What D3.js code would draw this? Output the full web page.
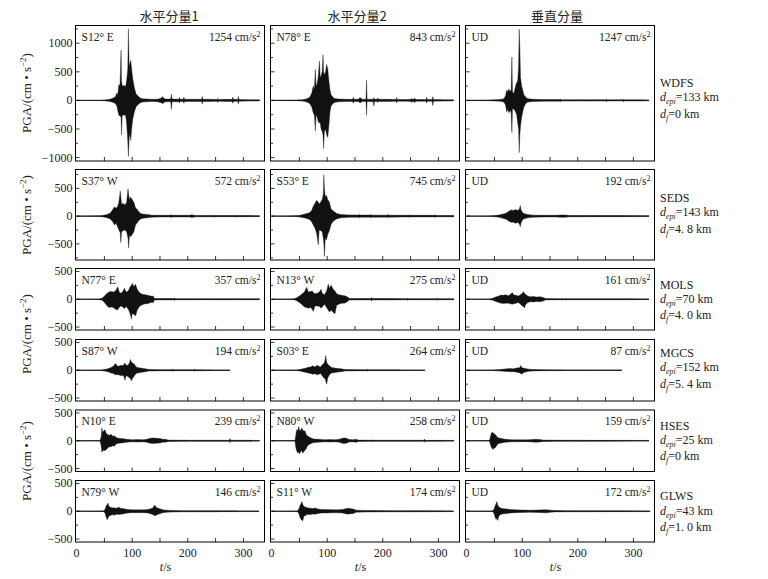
<!DOCTYPE html>
<html>
<head>
<meta charset="utf-8">
<script src="https://cdn.jsdelivr.net/npm/d3@7"></script>
<style>
  body { margin: 0; background: #fff; }
  svg { display: block; }
  text { font-family: "Liberation Serif", "DejaVu Serif", serif; fill: #222; }
  .cjk { font-family: "Noto Sans CJK SC", sans-serif; }
</style>
</head>
<body>
<div id="chart"></div>
<script>
/* ============================================================
   DATA
   each trace: [t (s), upper envelope, lower envelope] in cm/s^2
   ============================================================ */
const columnTitles = ['水平分量1', '水平分量2', '垂直分量'];
const stations = ['WDFS', 'SEDS', 'MOLS', 'MGCS', 'HSES', 'GLWS'];
const epiDist = ['133', '143', '70', '152', '25', '43'];
const faultDist = ['0', '4. 8', '4. 0', '5. 4', '0', '1. 0'];
const components = [
    ['S12° E', 'N78° E', 'UD'],
    ['S37° W', 'S53° E', 'UD'],
    ['N77° E', 'N13° W', 'UD'],
    ['S87° W', 'S03° E', 'UD'],
    ['N10° E', 'N80° W', 'UD'],
    ['N79° W', 'S11° W', 'UD']
];
const pgaValues = [
    [1254, 843, 1247],
    [572, 745, 192],
    [357, 275, 161],
    [194, 264, 87],
    [239, 258, 159],
    [146, 174, 172]
];
const xTicks = [0, 100, 200, 300];
const yTicksBig = [-1000, -500, 0, 500, 1000];
const yTicksSmall = [-500, 0, 500];

const wdfsH1 = [[0,0,0],[42,3,-3],[50,8,-8],[60,20,-20],[66,40,-35],[70,70,-60],[72.5,130,-100],[74,100,-180],[76,280,-260],[78,260,-270],[80,880,-300],[80.8,350,-600],[82,260,-270],[84,250,-250],[86,260,-270],[88,240,-250],[90,350,-400],[92,550,-700],[93.2,1254,-980],[94.5,600,-650],[96,650,-600],[97.4,700,-700],[99,550,-500],[101,380,-330],[104,220,-200],[107,110,-110],[110,80,-80],[114,45,-45],[118,30,-30],[125,25,-25],[135,20,-20],[145,22,-22],[151,35,-35],[153,50,-45],[155,65,-60],[157,35,-35],[160,25,-25],[169.3,25,-25],[170.5,110,-160],[171.7,25,-25],[183.8,22,-22],[185,50,-45],[186.2,20,-20],[191.8,20,-20],[193,55,-50],[194.2,20,-20],[210,20,-20],[224.8,18,-18],[226,70,-65],[227.2,18,-18],[240,18,-18],[252.8,16,-16],[254,35,-35],[255.2,15,-15],[270,18,-18],[279.8,18,-18],[281,55,-50],[282.2,18,-18],[289.8,16,-16],[291,70,-65],[292.2,15,-15],[310,12,-12],[329,10,-10]];
const wdfsH2 = [[0,0,0],[20,3,-3],[45,5,-5],[55,12,-12],[62,25,-25],[68,50,-50],[72,120,-110],[75,250,-220],[77,200,-260],[78.6,540,-535],[80,250,-250],[82,300,-300],[84,420,-380],[86,690,-390],[87.5,400,-400],[89,430,-500],[91,500,-550],[92.5,800,-600],[93.5,500,-843],[95,450,-550],[97,500,-500],[99,628,-600],[101,550,-650],[103,350,-450],[105,180,-200],[107,100,-100],[110,60,-60],[113,35,-35],[120,25,-25],[135,20,-20],[145.8,20,-20],[147,55,-50],[148.2,18,-18],[156,20,-20],[158,40,-35],[159,45,-40],[161,40,-35],[162.5,18,-18],[169.8,20,-20],[170.8,355,-260],[171.8,20,-20],[182.8,22,-22],[184,45,-100],[185.2,20,-20],[189.8,20,-20],[191,40,-35],[192.2,18,-18],[210,18,-18],[223.8,16,-16],[225,50,-45],[226.2,15,-15],[245,15,-15],[251,20,-20],[252,35,-35],[254,20,-20],[256,22,-22],[258,38,-35],[259.2,15,-15],[275,15,-15],[277.8,15,-15],[279,55,-50],[280.2,15,-15],[288.8,15,-15],[290,65,-90],[291.2,15,-15],[310,12,-12],[327,10,-10]];
const wdfsUD = [[0,0,0],[8,3,-3],[40,6,-6],[50,10,-10],[60,15,-15],[67,30,-30],[70,80,-80],[72,180,-200],[74,150,-160],[76,200,-215],[78,170,-180],[80,160,-200],[81.5,760,-565],[82.5,150,-150],[85,120,-150],[88,250,-200],[90,310,-250],[92,350,-400],[93.5,600,-500],[94.6,1247,-915],[95.8,920,-600],[97,400,-450],[99,250,-300],[101,180,-200],[103,100,-120],[106,60,-60],[110,30,-30],[120,20,-20],[140,15,-15],[160,15,-15],[167.8,15,-15],[169,25,-25],[170.2,12,-12],[200,12,-12],[230,12,-12],[250.8,12,-12],[252,18,-18],[253.2,10,-10],[270,10,-10],[280.8,10,-10],[282,22,-22],[283.2,10,-10],[310,10,-10],[328,8,-8]];

const sedsH1 = [[0,0,0],[14,3,-3],[40,6,-6],[46,12,-12],[55,30,-30],[61,60,-55],[65,120,-100],[68,165,-160],[71,140,-130],[74,180,-200],[76,250,-250],[78.5,452,-300],[79.5,350,-476],[81,220,-280],[84,226,-260],[87,200,-250],[90,250,-280],[92.5,494,-400],[93.5,400,-577],[95,300,-350],[97,345,-370],[100,300,-330],[103,250,-280],[106,150,-160],[109,120,-120],[112,80,-80],[116,45,-45],[122,35,-35],[128,30,-30],[135,18,-18],[150,15,-15],[165,15,-15],[168.8,15,-15],[170,28,-28],[171.2,15,-15],[200,15,-15],[204.8,15,-15],[206,28,-25],[208,18,-18],[210,28,-25],[211.2,12,-12],[240,12,-12],[246.8,12,-12],[248,18,-18],[249.2,10,-10],[280,10,-10],[285.8,10,-10],[287,18,-18],[288.2,10,-10],[310,10,-10],[329,8,-8]];
const sedsH2 = [[0,0,0],[24,3,-3],[42,6,-6],[48,12,-12],[55,25,-25],[62,45,-40],[68,60,-60],[72,100,-100],[75,180,-160],[78,230,-220],[81,285,-310],[84,250,-518],[85.5,220,-250],[88,250,-260],[91,300,-280],[93,400,-400],[94,745,-500],[95,500,-726],[96.5,350,-400],[98.5,375,-430],[101,300,-330],[104,250,-260],[107,130,-150],[110,100,-100],[114,70,-70],[118,45,-45],[125,30,-30],[140,22,-22],[155,22,-22],[156.8,22,-22],[158,30,-28],[159.2,20,-20],[175,20,-20],[177.8,20,-20],[179,30,-28],[180.2,18,-18],[200,18,-18],[207.8,18,-18],[209,32,-30],[210.2,18,-18],[240,15,-15],[246.8,15,-15],[248,22,-22],[249.2,14,-14],[285,14,-14],[293.8,14,-14],[295,22,-22],[296.2,12,-12],[315,12,-12],[328,10,-10]];
const sedsUD = [[0,0,0],[35,3,-3],[45,6,-6],[55,15,-15],[62,30,-30],[68,45,-45],[72,60,-60],[76,90,-90],[80,110,-110],[84,100,-110],[88,120,-130],[92,100,-115],[95,130,-140],[96.5,192,-190],[98,110,-120],[101,60,-60],[104,45,-45],[110,30,-30],[120,18,-18],[140,15,-15],[160,15,-15],[170,22,-22],[178,20,-20],[185,12,-12],[229.8,10,-10],[231,14,-14],[232.2,10,-10],[280,10,-10],[328,8,-8]];

const molsH1 = [[0,0,0],[40,5,-5],[46,20,-20],[50,60,-60],[54,100,-110],[58,130,-150],[62,140,-140],[66,130,-150],[70,150,-180],[74,225,-190],[77,120,-140],[80,110,-120],[83,140,-140],[86,200,-170],[89,130,-130],[93,150,-180],[96,220,-250],[98.5,250,-357],[100,285,-260],[103,230,-270],[106,270,-300],[109,180,-200],[113,120,-130],[118,90,-100],[124,80,-80],[128,70,-80],[133,60,-60],[138,55,-60],[140,15,-15],[150,12,-12],[170,12,-12],[174.8,12,-12],[176,22,-22],[177.2,10,-10],[200,10,-10],[230,8,-8],[260,10,-10],[300,8,-8],[329,8,-8]];
const molsH2 = [[0,0,0],[33,4,-4],[40,8,-8],[45,25,-25],[50,60,-60],[55,100,-100],[59,130,-140],[63,214,-150],[66,130,-160],[70,140,-150],[73,150,-180],[75,120,-220],[78,100,-120],[82,110,-120],[86,130,-130],[89,180,-160],[91,110,-140],[95,80,-90],[99,150,-150],[102,275,-200],[104,200,-230],[107,250,-200],[111,180,-240],[114,150,-262],[117,100,-110],[121,80,-90],[126,70,-70],[131,65,-70],[136,45,-45],[140,15,-15],[160,12,-12],[178.8,12,-12],[180,30,-30],[181.2,12,-12],[210,12,-12],[243.8,10,-10],[245,20,-20],[246.2,10,-10],[280,10,-10],[296.8,10,-10],[298,16,-16],[299.2,10,-10],[328,8,-8]];
const molsUD = [[0,0,0],[40,4,-4],[46,15,-15],[52,40,-40],[58,60,-60],[62,75,-70],[66,70,-75],[70,80,-70],[75,65,-70],[79,90,-80],[82,120,-90],[85,75,-80],[89,70,-70],[93,60,-60],[97,80,-90],[100,110,-120],[102.5,137,-130],[104,110,-161],[106,90,-100],[110,60,-60],[115,45,-45],[120,50,-50],[126,40,-40],[132,45,-45],[138,30,-30],[142,12,-12],[160,10,-10],[178.8,10,-10],[180,15,-15],[181.2,8,-8],[250,8,-8],[290,8,-8],[328,6,-6]];

const mgcsH1 = [[0,0,0],[44,4,-4],[50,15,-15],[56,25,-25],[62,50,-50],[66,70,-60],[70,120,-80],[73,80,-80],[76,70,-80],[79,90,-100],[82,80,-90],[85,100,-110],[87,130,-180],[89,90,-100],[92,90,-110],[95,130,-140],[97,194,-150],[98.5,150,-190],[101,130,-140],[104,110,-100],[107,60,-60],[112,45,-45],[118,35,-35],[124,25,-25],[130,15,-15],[150,10,-10],[171.8,10,-10],[173,18,-18],[174.2,8,-8],[210.8,8,-8],[212,18,-18],[213.2,8,-8],[250,6,-6],[276,5,-5]];
const mgcsH2 = [[0,0,0],[45,4,-4],[50,12,-12],[56,25,-25],[62,40,-40],[66,55,-50],[70,60,-60],[74,80,-70],[78,60,-65],[82,90,-80],[85,70,-70],[88,60,-60],[91,100,-100],[94,120,-140],[96,180,-150],[97.5,264,-200],[99,150,-250],[101,110,-140],[104,80,-80],[108,50,-50],[114,40,-40],[120,30,-30],[126,25,-25],[132,12,-12],[160,10,-10],[171.8,10,-10],[173,16,-16],[174.2,7,-7],[227.8,7,-7],[229,12,-12],[230.2,6,-6],[260,5,-5],[276,5,-5]];
const mgcsUD = [[0,0,0],[45,3,-3],[55,10,-10],[65,18,-18],[72,25,-22],[78,30,-28],[84,25,-25],[88,35,-30],[92,45,-40],[95,40,-45],[97.5,87,-60],[99,50,-71],[102,40,-45],[106,30,-30],[112,20,-20],[120,12,-12],[140,8,-8],[180,6,-6],[230,5,-5],[279,4,-4]];

const hsesH1 = [[0,0,0],[42,5,-5],[44,60,-80],[45.5,230,-205],[47,150,-180],[49,180,-170],[51,200,-180],[53,140,-160],[56,110,-130],[59,100,-110],[62,115,-110],[65,80,-90],[68,90,-100],[71,60,-60],[75,45,-45],[80,40,-40],[85,35,-35],[90,25,-25],[100,20,-20],[110,22,-22],[120,20,-20],[126,25,-25],[132,45,-45],[138,50,-50],[144,45,-45],[150,40,-40],[155,25,-25],[160,25,-25],[165,12,-12],[190,10,-10],[195.8,10,-10],[197,15,-15],[198.2,8,-8],[240,8,-8],[274.8,8,-8],[276,40,-35],[277.2,8,-8],[300,8,-8],[312.8,8,-8],[314,15,-15],[315.2,6,-6],[329,6,-6]];
const hsesH2 = [[0,0,0],[42,5,-5],[43.5,100,-120],[45,200,-180],[47,180,-220],[48.5,258,-200],[50,200,-238],[52,180,-200],[54,230,-180],[56,200,-220],[58,170,-200],[60,180,-170],[62,120,-150],[64,90,-100],[67,70,-70],[71,50,-50],[76,30,-30],[85,25,-25],[95,20,-20],[105,22,-22],[115,20,-20],[122,28,-28],[127,45,-45],[131,50,-48],[135,45,-45],[138,25,-25],[145,20,-20],[152,28,-28],[156,12,-12],[175,10,-10],[180.8,10,-10],[182,16,-16],[183.2,8,-8],[230,8,-8],[260,8,-8],[273.8,8,-8],[275,30,-28],[276.2,7,-7],[300,7,-7],[328,6,-6]];
const hsesUD = [[0,0,0],[41,4,-4],[42.5,60,-60],[44,120,-110],[46,159,-140],[48,140,-155],[50,120,-130],[52,110,-120],[54,80,-90],[56,60,-60],[60,45,-45],[65,35,-35],[70,25,-25],[80,20,-20],[95,16,-16],[110,16,-16],[118,22,-22],[125,28,-28],[132,22,-22],[138,12,-12],[160,10,-10],[200,8,-8],[250,7,-7],[300,6,-6],[328,5,-5]];

const glwsH1 = [[0,0,0],[48,4,-4],[51,30,-30],[53,90,-100],[55,120,-155],[56.5,146,-120],[58,90,-90],[61,70,-75],[64,60,-60],[67,65,-70],[70,55,-60],[73,60,-55],[76,70,-60],[79,55,-55],[83,50,-50],[87,40,-40],[92,30,-30],[100,25,-25],[110,25,-25],[120,25,-25],[128,30,-30],[133,45,-45],[137,60,-60],[140.5,113,-80],[143,70,-70],[147,55,-55],[151,40,-40],[155,25,-25],[162,20,-20],[170,15,-15],[190,10,-10],[220,10,-10],[251.8,10,-10],[253,12,-12],[254.2,7,-7],[287.8,7,-7],[289,10,-10],[290.2,6,-6],[328,6,-6]];
const glwsH2 = [[0,0,0],[46,4,-4],[49,40,-40],[51,100,-110],[53,140,-150],[54.5,174,-160],[56,120,-174],[58,90,-90],[61,70,-75],[64,65,-60],[67,60,-60],[70,55,-60],[74,50,-50],[78,60,-55],[82,45,-45],[86,35,-35],[92,30,-30],[100,30,-30],[110,28,-28],[120,28,-28],[127,30,-30],[131,40,-40],[135,50,-50],[139,55,-50],[143,45,-45],[147,40,-40],[152,20,-20],[165,15,-15],[180,12,-12],[210,10,-10],[250,10,-10],[290,8,-8],[327,6,-6]];
const glwsUD = [[0,0,0],[46,4,-4],[49,30,-30],[51,90,-100],[53,140,-150],[54.5,172,-120],[56,110,-165],[58,80,-90],[61,60,-60],[64,50,-50],[68,45,-45],[73,40,-40],[80,30,-30],[88,25,-25],[100,22,-22],[115,20,-20],[128,22,-22],[138,25,-25],[145,28,-28],[150,20,-20],[158,12,-12],[180,10,-10],[220,8,-8],[270,7,-7],[330,6,-6]];

const traceGrid = [
    [wdfsH1, wdfsH2, wdfsUD],
    [sedsH1, sedsH2, sedsUD],
    [molsH1, molsH2, molsUD],
    [mgcsH1, mgcsH2, mgcsUD],
    [hsesH1, hsesH2, hsesUD],
    [glwsH1, glwsH2, glwsUD]
];

/* ============================================================
   LAYOUT
   ============================================================ */
const width = 768, height = 579;
const colLeft = [75.5, 270.5, 465.5];
const colWidth = 189;
const rowBox = [[25.5, 161], [169.5, 260], [268.5, 330], [339.5, 401], [410, 471.5], [480.5, 542]];
const rowDomain = [[-1060, 1310], [-790, 840], [-553, 553], [-553, 553], [-553, 553], [-553, 553]];
const rowLabelTicks = [yTicksBig, yTicksSmall, yTicksSmall, yTicksSmall, yTicksSmall, yTicksSmall];
const yLabelCenters = [93, 215, 334, 461];
const stationLines = [[83, 97, 114], [198, 212, 229], [285, 299, 315], [353, 367, 384], [426, 440, 456], [496, 511, 527]];

const fmt = v => (v < 0 ? '\u2212' + Math.abs(v) : String(v));

const svg = d3.select('#chart')
    .append('svg')
    .attr('width', width)
    .attr('height', height);

// Column titles
columnTitles.forEach((title, c) => {
    svg.append('text')
        .attr('class', 'cjk')
        .attr('x', [169, 357, 557][c])
        .attr('y', 21)
        .attr('text-anchor', 'middle')
        .attr('font-size', '13px')
        .text(title);
});

/**
 * Draw one accelerogram panel
 */
function drawPanel(r, c) {
    const [top, bottom] = rowBox[r];
    const left = colLeft[c];
    const x = d3.scaleLinear().domain([-2, 338]).range([left, left + colWidth]);
    const y = d3.scaleLinear().domain(rowDomain[r]).range([bottom, top]);
    const data = traceGrid[r][c];
    const g = svg.append('g').attr('class', 'panel');

    const clipId = `clip-${r}-${c}`;
    g.append('clipPath').attr('id', clipId)
        .append('rect')
        .attr('x', left).attr('y', top)
        .attr('width', colWidth).attr('height', bottom - top);

    const body = g.append('g').attr('clip-path', `url(#${clipId})`);

    // zero line over record length
    body.append('line')
        .attr('x1', x(0)).attr('x2', x(data[data.length - 1][0]))
        .attr('y1', y(0)).attr('y2', y(0))
        .attr('stroke', '#000')
        .attr('stroke-width', 0.9);

    // envelope of the record
    const area = d3.area()
        .x(d => x(d[0]))
        .y0(d => y(d[2]))
        .y1(d => y(d[1]));

    body.append('path')
        .datum(data)
        .attr('d', area)
        .attr('fill', '#111')
        .attr('stroke', '#222')
        .attr('stroke-width', 0.4)
        .attr('stroke-linejoin', 'round');

    // frame
    g.append('rect')
        .attr('x', left).attr('y', top)
        .attr('width', colWidth).attr('height', bottom - top)
        .attr('fill', 'none')
        .attr('stroke', '#000')
        .attr('stroke-width', 1);

    // left ticks (major every 500, minor every 250)
    const [lo, hi] = rowDomain[r];
    for (let v = Math.ceil(lo / 250) * 250; v <= hi; v += 250) {
        const major = v % 500 === 0;
        g.append('line')
            .attr('x1', left).attr('x2', left + (major ? 4 : 2.5))
            .attr('y1', y(v)).attr('y2', y(v))
            .attr('stroke', '#000').attr('stroke-width', 0.8);
    }

    // bottom ticks every 50 s
    d3.range(50, 338, 50).forEach(t => {
        g.append('line')
            .attr('x1', x(t)).attr('x2', x(t))
            .attr('y1', bottom).attr('y2', bottom - 4)
            .attr('stroke', '#000').attr('stroke-width', 0.8);
    });

    // y tick labels on first column
    if (c === 0) {
        rowLabelTicks[r].forEach(v => {
            g.append('text')
                .attr('x', left - 3)
                .attr('y', y(v) + 4)
                .attr('text-anchor', 'end')
                .attr('font-size', '12px')
                .text(fmt(v));
        });
    }

    // x tick labels on last row
    if (r === rowBox.length - 1) {
        xTicks.forEach(t => {
            g.append('text')
                .attr('x', x(t))
                .attr('y', bottom + 15)
                .attr('text-anchor', 'middle')
                .attr('font-size', '12px')
                .text(t);
        });
        const lab = g.append('text')
            .attr('x', x(160))
            .attr('y', bottom + 29)
            .attr('text-anchor', 'middle')
            .attr('font-size', '12px');
        lab.append('tspan').attr('font-style', 'italic').text('t');
        lab.append('tspan').text('/s');
    }

    // component and PGA labels
    g.append('text')
        .attr('x', left + 6)
        .attr('y', top + 15)
        .attr('font-size', '11.5px')
        .text(components[r][c]);

    const pga = g.append('text')
        .attr('x', left + colWidth - 4)
        .attr('y', top + 15)
        .attr('text-anchor', 'end')
        .attr('font-size', '11.5px');
    pga.append('tspan').text(`${pgaValues[r][c]} cm/s`);
    pga.append('tspan').attr('dy', -4).attr('font-size', '8px').text('2');
}

traceGrid.forEach((row, r) => row.forEach((_, c) => drawPanel(r, c)));

// y axis titles
yLabelCenters.forEach(cy => {
    const t = svg.append('text')
        .attr('transform', `translate(31,${cy}) rotate(-90)`)
        .attr('text-anchor', 'middle')
        .attr('font-size', '13px');
    t.append('tspan').text('PGA/(cm \u2022 s');
    t.append('tspan').attr('dy', -5).attr('font-size', '9px').text('\u22122');
    t.append('tspan').attr('dy', 5).text(')');
});

// station labels
stations.forEach((name, r) => {
    const [y1, y2, y3] = stationLines[r];
    svg.append('text').attr('x', 660).attr('y', y1 + 4)
        .attr('font-size', '12px').text(name);

    const e = svg.append('text').attr('x', 660).attr('y', y2 + 4).attr('font-size', '12px');
    e.append('tspan').attr('font-style', 'italic').text('d');
    e.append('tspan').attr('dy', 3).attr('font-size', '8px').attr('font-style', 'italic').text('epi');
    e.append('tspan').attr('dy', -3).text(`=${epiDist[r]} km`);

    const f = svg.append('text').attr('x', 660).attr('y', y3 + 4).attr('font-size', '12px');
    f.append('tspan').attr('font-style', 'italic').text('d');
    f.append('tspan').attr('dy', 3).attr('font-size', '8px').attr('font-style', 'italic').text('f');
    f.append('tspan').attr('dy', -3).text(`=${faultDist[r]} km`);
});
</script>
</body>
</html>
